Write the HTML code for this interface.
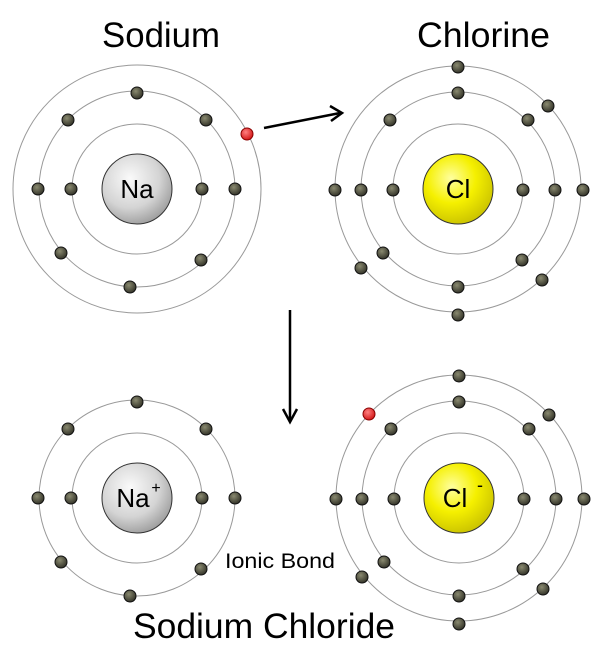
<!DOCTYPE html>
<html><head><meta charset="utf-8"><style>html,body{margin:0;padding:0;background:#fff}svg{display:block}</style></head>
<body>
<svg width="600" height="660" viewBox="0 0 600 660" xmlns="http://www.w3.org/2000/svg" font-family="Liberation Sans, Arial, sans-serif">
<defs>
<radialGradient id="gn" cx="0.4" cy="0.35" r="0.7"><stop offset="0" stop-color="#fafafa"/><stop offset="0.6" stop-color="#d4d4d4"/><stop offset="1" stop-color="#9a9a9a"/></radialGradient>
<radialGradient id="gy" cx="0.4" cy="0.35" r="0.7"><stop offset="0" stop-color="#ffffa0"/><stop offset="0.5" stop-color="#f5f000"/><stop offset="1" stop-color="#c8c000"/></radialGradient>
<radialGradient id="ge" cx="0.4" cy="0.35" r="0.7"><stop offset="0" stop-color="#8a8a70"/><stop offset="1" stop-color="#2e2e24"/></radialGradient>
<radialGradient id="gr" cx="0.4" cy="0.35" r="0.7"><stop offset="0" stop-color="#ff8080"/><stop offset="1" stop-color="#d01010"/></radialGradient>
<symbol id="e" overflow="visible"><circle r="6" fill="url(#ge)" stroke="#111" stroke-width="1"/></symbol>
<symbol id="r" overflow="visible"><circle r="6" fill="url(#gr)" stroke="#800" stroke-width="1"/></symbol>
<g id="na">
<g fill="none" stroke="#999" stroke-width="1"><circle cx="137" cy="189" r="65"/><circle cx="137" cy="189" r="98"/></g>
<use href="#e" x="71" y="189"/><use href="#e" x="202" y="189"/>
<use href="#e" x="137" y="93"/><use href="#e" x="68" y="120"/><use href="#e" x="206" y="120"/>
<use href="#e" x="38" y="189"/><use href="#e" x="235" y="189"/><use href="#e" x="61" y="253"/>
<use href="#e" x="201" y="260"/><use href="#e" x="130" y="287"/>
</g>
<g id="cl">
<g fill="none" stroke="#999" stroke-width="1"><circle cx="458" cy="189" r="65"/><circle cx="458" cy="189" r="97"/><circle cx="458" cy="189" r="123"/></g>
<use href="#e" x="393" y="190"/><use href="#e" x="523" y="190"/>
<use href="#e" x="458" y="93"/><use href="#e" x="390" y="120"/><use href="#e" x="528" y="120"/>
<use href="#e" x="361" y="190"/><use href="#e" x="555" y="190"/><use href="#e" x="383" y="253"/>
<use href="#e" x="522" y="260"/><use href="#e" x="458" y="287"/>
<use href="#e" x="458" y="67"/><use href="#e" x="548" y="106"/><use href="#e" x="335" y="190"/>
<use href="#e" x="583" y="190"/><use href="#e" x="361" y="268"/><use href="#e" x="542" y="280"/><use href="#e" x="458" y="315"/>
</g>
</defs>

<text x="102" y="47" font-size="35" textLength="118" lengthAdjust="spacingAndGlyphs">Sodium</text>
<text x="417" y="47" font-size="35" textLength="133" lengthAdjust="spacingAndGlyphs">Chlorine</text>

<circle cx="137" cy="189" r="124" fill="none" stroke="#999" stroke-width="1"/>
<use href="#na"/>
<circle cx="137" cy="189" r="35" fill="url(#gn)" stroke="#333" stroke-width="1"/>
<text x="137" y="198" font-size="26" text-anchor="middle">Na</text>
<use href="#r" x="247" y="134"/>

<use href="#cl"/>
<circle cx="458" cy="189" r="35" fill="url(#gy)" stroke="#333" stroke-width="1"/>
<text x="458" y="198" font-size="26" text-anchor="middle">Cl</text>

<line x1="264" y1="128" x2="340" y2="113" stroke="#000" stroke-width="2.5"/>
<path d="M330 106 L342 113 L331 121" fill="none" stroke="#000" stroke-width="2.5"/>
<line x1="290" y1="310" x2="290" y2="421" stroke="#000" stroke-width="2.5"/>
<path d="M283 409 L290 422 L297 409" fill="none" stroke="#000" stroke-width="2.5"/>

<use href="#na" y="309"/>
<circle cx="137" cy="498" r="35" fill="url(#gn)" stroke="#333" stroke-width="1"/>
<text x="133" y="507" font-size="26" text-anchor="middle">Na</text>
<text x="156" y="493" font-size="16" text-anchor="middle">+</text>

<use href="#cl" x="1" y="309"/>
<circle cx="459" cy="498" r="35" fill="url(#gy)" stroke="#333" stroke-width="1"/>
<text x="455" y="507" font-size="26" text-anchor="middle">Cl</text>
<text x="480" y="491" font-size="18" text-anchor="middle">-</text>
<use href="#r" x="369" y="414"/>

<text x="225" y="568" font-size="21" textLength="110" lengthAdjust="spacingAndGlyphs">Ionic Bond</text>
<text x="133" y="638" font-size="35" textLength="262" lengthAdjust="spacingAndGlyphs">Sodium Chloride</text>
</svg>
</body></html>
